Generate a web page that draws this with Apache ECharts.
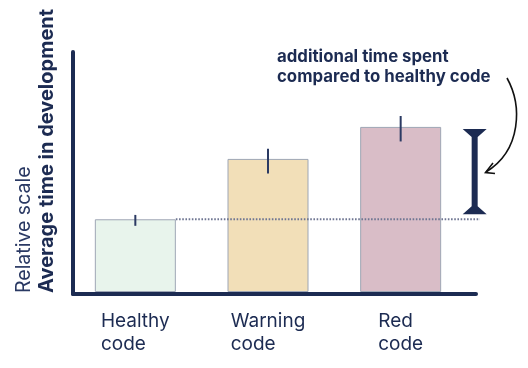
<!DOCTYPE html>
<html><head><meta charset="utf-8">
<script src="https://cdn.jsdelivr.net/npm/echarts@6/dist/echarts.min.js"></script>
<style>html,body{margin:0;padding:0;background:#fff}#c{width:528px;height:368px}</style>
</head><body><div id="c"></div>
<script>
var categories = ['Healthy\ncode', 'Warning\ncode', 'Red\ncode'];
var values = [100, 183, 227];
var errLow = [91, 163, 207];
var errHigh = [106, 197, 242];
var barColors = ['#e8f4ec', '#f2dfb8', '#d9bdc7'];
var bracketRange = [107, 224];
var yMax = 330;
var annotation = 'additional time spent\ncompared to healthy code';
var axisTitle = 'Average time in development';
var axisSubtitle = 'Relative scale';

var NAVY = '#1c2b52';
var FONT = 'Inter, "Noto Sans", sans-serif';
var chart = echarts.init(document.getElementById('c'), null, {renderer: 'canvas'});

var option = {
  animation: false,
  backgroundColor: '#fff',
  grid: [
    {left: 73, right: 52, top: 52, bottom: 74},
    {left: 69, right: 61, top: 52, bottom: 76}
  ],
  xAxis: [
    {gridIndex: 0, type: 'category', data: categories, axisLine: {show: true, lineStyle: {color: NAVY, width: 4}},
     axisTick: {show: false}, axisLabel: {show: false}, splitLine: {show: false}},
    {gridIndex: 1, type: 'category', data: categories, axisLine: {show: false}, axisTick: {show: false},
     splitLine: {show: false},
     axisLabel: {
       margin: 18, color: NAVY, fontFamily: FONT, fontSize: 19, lineHeight: 23,
       formatter: function (v) {
         return v.split('\n').map(function (s) { return '{l|' + s + '}'; }).join('\n');
       },
       rich: {l: {align: 'left', color: NAVY, fontFamily: FONT, fontSize: 19, lineHeight: 23}}
     }}
  ],
  yAxis: [
    {gridIndex: 0, type: 'value', min: 0, max: yMax, axisLine: {show: true, lineStyle: {color: NAVY, width: 4}},
     axisTick: {show: false}, axisLabel: {show: false}, splitLine: {show: false}},
    {gridIndex: 1, type: 'value', min: 0, max: yMax, show: false, splitLine: {show: false}}
  ],
  series: [
    {
      type: 'bar', xAxisIndex: 1, yAxisIndex: 1, barWidth: 81, z: 2,
      data: values.map(function (v, i) {
        return {value: v, itemStyle: {color: barColors[i], borderColor: '#9ea6b5', borderWidth: 1}};
      })
    },
    {
      type: 'custom', xAxisIndex: 1, yAxisIndex: 1, z: 3,
      data: values.map(function (v, i) { return [i, v]; }),
      renderItem: function (params, api) {
        if (api.value(0) !== 0) return null;
        var p = api.coord([0, api.value(1)]);
        var barHalf = 40.5;
        return {type: 'line', shape: {x1: p[0] + barHalf, y1: p[1], x2: 480, y2: p[1]},
          style: {stroke: '#6f7692', lineWidth: 2, lineDash: [1.6, 1.6]}};
      }
    },
    {
      type: 'custom', xAxisIndex: 1, yAxisIndex: 1, z: 4,
      data: errLow.map(function (lo, i) { return [i, lo, errHigh[i]]; }),
      renderItem: function (params, api) {
        var a = api.coord([api.value(0), api.value(1)]);
        var b = api.coord([api.value(0), api.value(2)]);
        return {type: 'line', shape: {x1: a[0], y1: a[1], x2: b[0], y2: b[1]},
          style: {stroke: '#2b3a63', lineWidth: 2}};
      }
    },
    {
      type: 'custom', xAxisIndex: 1, yAxisIndex: 1, z: 4,
      data: [[2, bracketRange[0], bracketRange[1]]],
      renderItem: function (params, api) {
        var lo = api.coord([api.value(0), api.value(1)]);
        var hi = api.coord([api.value(0), api.value(2)]);
        var cx = lo[0] + 74, t = hi[1], b = lo[1];
        return {type: 'polygon', shape: {points: [
          [cx - 12, t], [cx + 12, t], [cx + 3, t + 8], [cx + 3, b - 8],
          [cx + 12, b], [cx - 12, b], [cx - 3, b - 8], [cx - 3, t + 8]
        ]}, style: {fill: NAVY}};
      }
    }
  ],
  graphic: [
    {type: 'text', left: 277, top: 47, style: {text: annotation, fill: NAVY, font: 'bold 16.8px ' + FONT, lineHeight: 20}},
    {type: 'text', x: 47, y: 293, rotation: Math.PI / 2,
     style: {text: axisTitle, fill: NAVY, font: 'bold 20px ' + FONT, textAlign: 'left', textVerticalAlign: 'middle'}},
    {type: 'text', x: 24, y: 293, rotation: Math.PI / 2,
     style: {text: axisSubtitle, fill: '#2a3963', font: '19.5px ' + FONT, textAlign: 'left', textVerticalAlign: 'middle'}},
    {type: 'bezierCurve', shape: {x1: 507, y1: 78, cpx1: 522, cpy1: 105, cpx2: 522, cpy2: 150, x2: 486, y2: 172},
     style: {stroke: '#111', lineWidth: 1.6, fill: null}},
    {type: 'polyline', shape: {points: [[493, 163], [485.5, 172.5], [495, 173.5]]},
     style: {stroke: '#111', lineWidth: 1.6, fill: null}}
  ]
};
chart.setOption(option);
</script></body></html>
